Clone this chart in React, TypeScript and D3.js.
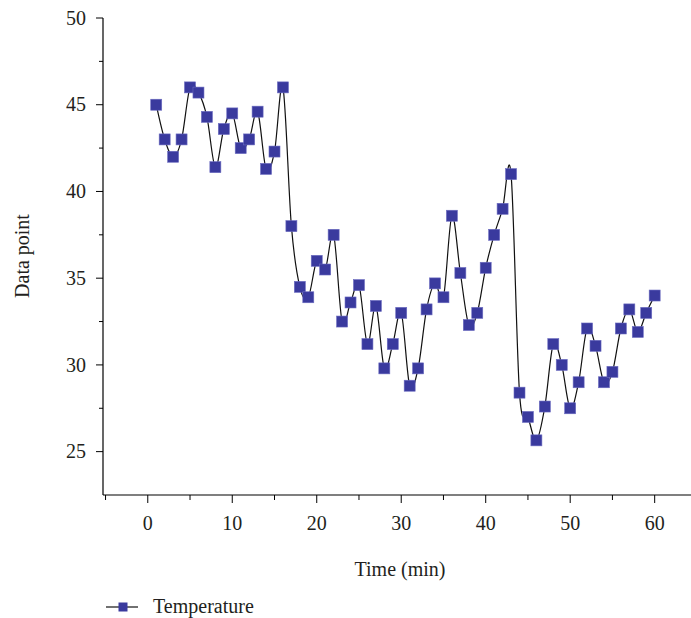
import React from "react";
import * as d3 from "d3";

const times: number[] = Array.from({ length: 60 }, (_, i) => i + 1);
const temperature: number[] = [
  45.0, 43.0, 42.0, 43.0, 46.0, 45.7, 44.3, 41.4, 43.6, 44.5,
  42.5, 43.0, 44.6, 41.3, 42.3, 46.0, 38.0, 34.5, 33.9, 36.0,
  35.5, 37.5, 32.5, 33.6, 34.6, 31.2, 33.4, 29.8, 31.2, 33.0,
  28.8, 29.8, 33.2, 34.7, 33.9, 38.6, 35.3, 32.3, 33.0, 35.6,
  37.5, 39.0, 41.0, 28.4, 27.0, 25.65, 27.6, 31.2, 30.0, 27.5,
  29.0, 32.1, 31.1, 29.0, 29.6, 32.1, 33.2, 31.9, 33.0, 34.0,
];
const xTicks: number[] = [0, 10, 20, 30, 40, 50, 60];
const xMinorTicks: number[] = [-5, 5, 15, 25, 35, 45, 55];
const yTicks: number[] = [25, 30, 35, 40, 45, 50];
const yMinorTicks: number[] = [27.5, 32.5, 37.5, 42.5, 47.5];
const xLabel = "Time (min)";
const yLabel = "Data point";
const seriesName = "Temperature";

const W = 691;
const H = 618;
const left = 103;
const right = 691;
const top = 18;
const bottom = 495;
const markerColor = "#3a3a9e";
const textColor = "#231f20";
const font = "'Liberation Serif', 'Times New Roman', serif";
const fs = 20;

export default function App() {
  const x = d3.scaleLinear().domain([-5.3, 64.3]).range([left, right]);
  const y = d3.scaleLinear().domain([22.5, 50]).range([bottom, top]);
  const data = times.map((t, i) => ({ t, v: temperature[i] }));
  const line = d3
    .line<{ t: number; v: number }>()
    .x((d) => x(d.t))
    .y((d) => y(d.v))
    .curve(d3.curveCardinal.tension(0));
  const ms = 11;
  const lms = 9;

  return (
    <svg
      width={W}
      height={H}
      style={{ position: "absolute", left: 0, top: 0, background: "#fff" }}
      fontFamily={font}
    >
      {/* axes */}
      <line x1={left} x2={left} y1={top} y2={bottom} stroke="#000" strokeWidth={1.2} />
      <line x1={left} x2={right} y1={bottom} y2={bottom} stroke="#000" strokeWidth={1.2} />
      {yTicks.map((v) => (
        <g key={"y" + v}>
          <line x1={left - 7} x2={left} y1={y(v)} y2={y(v)} stroke="#000" strokeWidth={1} />
          <text x={left - 17} y={y(v)} dy="0.33em" textAnchor="end" fontSize={fs} fill={textColor}>
            {v}
          </text>
        </g>
      ))}
      {yMinorTicks.map((v) => (
        <line key={"ym" + v} x1={left - 4} x2={left} y1={y(v)} y2={y(v)} stroke="#000" strokeWidth={1} />
      ))}
      {xTicks.map((v) => (
        <g key={"x" + v}>
          <line x1={x(v)} x2={x(v)} y1={bottom} y2={bottom + 8} stroke="#000" strokeWidth={1} />
          <text x={x(v)} y={bottom + 35} textAnchor="middle" fontSize={fs} fill={textColor}>
            {v}
          </text>
        </g>
      ))}
      {xMinorTicks.map((v) => (
        <line key={"xm" + v} x1={x(v)} x2={x(v)} y1={bottom} y2={bottom + 5} stroke="#000" strokeWidth={1} />
      ))}
      <text x={400} y={576} textAnchor="middle" fontSize={fs} fill={textColor}>
        {xLabel}
      </text>
      <text
        transform={`translate(29, 256) rotate(-90)`}
        textAnchor="middle"
        fontSize={fs}
        fill={textColor}
      >
        {yLabel}
      </text>

      {/* series */}
      <path d={line(data) || ""} fill="none" stroke="#111" strokeWidth={1.2} />
      {data.map((d) => (
        <rect
          key={d.t}
          x={x(d.t) - ms / 2}
          y={y(d.v) - ms / 2}
          width={ms}
          height={ms}
          fill={markerColor}
          stroke="#6b6bc0"
          strokeWidth={0.6}
        />
      ))}

      {/* legend */}
      <line x1={106} x2={138} y1={607} y2={607} stroke="#111" strokeWidth={1.2} />
      <rect x={123 - lms / 2} y={607 - lms / 2} width={lms} height={lms} fill={markerColor} />
      <text x={153} y={613} fontSize={fs} fill={textColor}>
        {seriesName}
      </text>
    </svg>
  );
}
